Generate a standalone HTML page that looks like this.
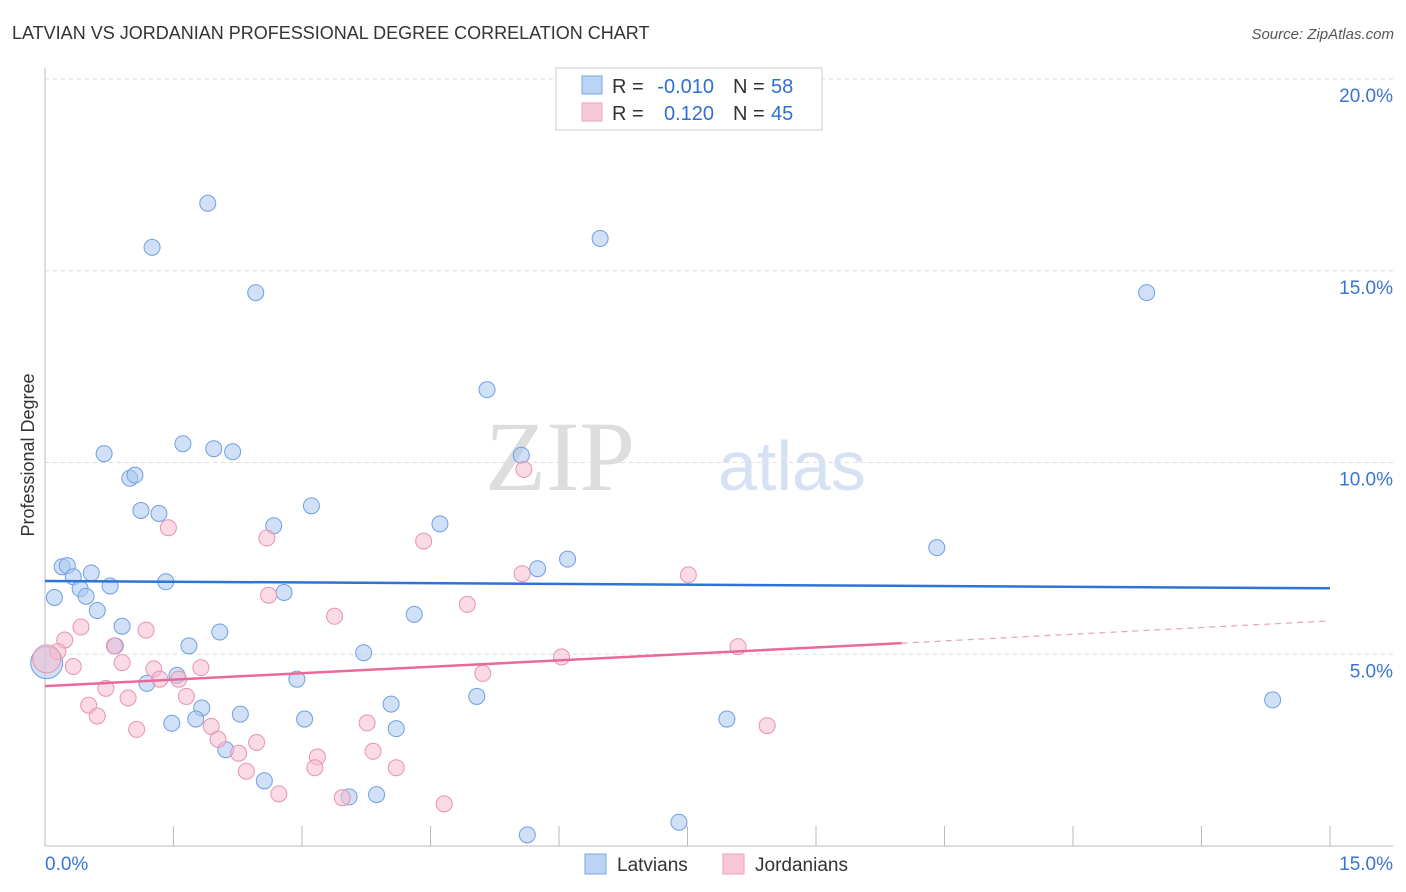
<!DOCTYPE html>
<html><head><meta charset="utf-8"><style>
body{margin:0;background:#fff;font-family:"Liberation Sans",sans-serif}
svg{display:block}
</style></head><body>
<svg id="chart" width="1406" height="892" xmlns="http://www.w3.org/2000/svg">
<text x="12" y="39" font-size="18" fill="#333">LATVIAN VS JORDANIAN PROFESSIONAL DEGREE CORRELATION CHART</text>
<text x="1394" y="39" font-size="15" fill="#555" font-style="italic" text-anchor="end">Source: ZipAtlas.com</text>
<text x="635" y="490" font-size="100" fill="#ddd" font-family="Liberation Serif,serif" text-anchor="end">ZIP</text>
<text x="718" y="490" font-size="70" fill="#d6e2f4">atlas</text>
<text transform="translate(34,455) rotate(-90)" font-size="18" fill="#333" text-anchor="middle">Professional Degree</text>
<g id="grid"></g><g id="pts"></g><g id="lines"></g>
<g>
<rect x="556" y="68" width="266" height="62" fill="#fff" stroke="#ccc"/>
<rect x="582" y="76" width="20" height="18" fill="#bcd4f4" stroke="#7aa6e4"/>
<rect x="582" y="103" width="20" height="18" fill="#f9c8d8" stroke="#eba0bc"/>
<text x="612" y="93" font-size="20" fill="#333">R =</text>
<text x="714" y="93" font-size="20" fill="#2f6fd6" text-anchor="end">-0.010</text>
<text x="733" y="93" font-size="20" fill="#333">N =</text>
<text x="771" y="93" font-size="20" fill="#2f6fd6">58</text>
<text x="612" y="120" font-size="20" fill="#333">R =</text>
<text x="714" y="120" font-size="20" fill="#2f6fd6" text-anchor="end">0.120</text>
<text x="733" y="120" font-size="20" fill="#333">N =</text>
<text x="771" y="120" font-size="20" fill="#2f6fd6">45</text>
</g>
<g>
<rect x="585" y="854" width="21" height="20" fill="#bcd4f4" stroke="#7aa6e4"/>
<text x="617" y="871" font-size="19" fill="#333">Latvians</text>
<rect x="723" y="854" width="21" height="20" fill="#f9c8d8" stroke="#eba0bc"/>
<text x="755" y="871" font-size="19" fill="#333">Jordanians</text>
</g>
</svg>
<script>
const yTicks=[5,10,15,20];
const yTickLabels=["5.0%","10.0%","15.0%","20.0%"];
const xTicks=[0,1.5,3,4.5,6,7.5,9,10.5,12,13.5,15];
const latX=[1.9,1.25,2.46,6.48,12.86,5.16,0.69,1.61,1.97,2.19,5.56,0.99,1.05,1.12,1.33,3.11,2.67,4.61,10.41,6.1,5.75,0.2,0.26,0.33,0.54,0.41,0.76,1.41,0.11,0.48,2.79,0.61,4.31,0.9,0.82,1.68,2.04,3.72,1.19,1.54,2.94,1.83,5.04,4.04,2.28,1.48,1.76,3.03,4.1,7.96,14.33,2.11,2.56,3.87,3.55,5.63,7.4,0.02];
const latY=[16.76,15.61,14.43,15.84,14.43,11.9,10.23,10.49,10.36,10.28,10.19,9.59,9.67,8.75,8.67,8.87,8.35,8.4,7.78,7.48,7.23,7.28,7.31,7.02,7.12,6.71,6.78,6.89,6.48,6.51,6.61,6.14,6.04,5.73,5.22,5.22,5.58,5.04,4.24,4.45,4.35,3.6,3.9,3.7,3.44,3.2,3.31,3.31,3.06,3.31,3.81,2.51,1.7,1.34,1.28,0.29,0.62,4.78];
const jorX=[5.59,1.44,2.59,4.42,5.57,7.51,2.61,3.38,4.93,0.42,1.18,0.23,0.81,8.09,6.03,0.15,0.33,0.90,1.27,1.34,1.82,5.11,1.56,0.71,1.65,0.97,0.51,0.61,1.94,3.76,1.07,2.02,2.47,2.26,3.18,3.83,8.43,3.15,4.1,2.35,2.73,3.47,4.66,0.02];
const jorY=[9.82,8.3,8.03,7.95,7.1,7.07,6.54,5.99,6.3,5.71,5.63,5.37,5.22,5.2,4.93,5.07,4.68,4.78,4.62,4.35,4.65,4.5,4.35,4.11,3.9,3.86,3.67,3.39,3.12,3.21,3.04,2.78,2.7,2.42,2.32,2.47,3.14,2.04,2.04,1.95,1.36,1.26,1.1,4.88];
const latLine=[6.91,6.72];
const jorLine=[4.17,5.29,5.87];
const X0=45,X1=1330,Y0=846,PY=38.35;
const sx=v=>X0+v*(X1-X0)/15, sy=v=>Y0-v*PY;
const NS="http://www.w3.org/2000/svg";
function mk(p,t,a){const e=document.createElementNS(NS,t);for(const k in a)e.setAttribute(k,a[k]);document.getElementById(p).appendChild(e);return e;}
yTicks.forEach((t,i)=>{
 const l=mk('grid','line',{x1:45,x2:1393,y1:sy(t),y2:sy(t),stroke:'#ddd','stroke-dasharray':'4,4'});
 
 
 const tx=mk('grid','text',{x:1393,y:sy(t)+23,'font-size':19,fill:'#3a74d6','text-anchor':'end'});
 tx.textContent=yTickLabels[i];
 
 
});
const axL=mk('grid','line',{x1:45,x2:45,y1:68,y2:846,stroke:'#bbb'});


const axB=mk('grid','line',{x1:45,x2:1393,y1:846,y2:846,stroke:'#bbb'});


xTicks.forEach(t=>{const l=mk('grid','line',{x1:sx(t),x2:sx(t),y1:826,y2:846,stroke:'#bbb'});
 
 });
[[0,"0.0%",'start',45],[15,"15.0%",'end',1393]].forEach(d=>{const t=mk('grid','text',{x:d[3],y:870,'font-size':19,fill:'#3a74d6','text-anchor':d[2]});t.textContent=d[1];
 
 });
latX.forEach((x,i)=>{const c=mk('pts','circle',{cx:sx(x),cy:sy(latY[i]),r:i==latX.length-1?16:8,fill:'#a9c8f0','fill-opacity':0.55,stroke:'#6f9fe0','stroke-width':1});
 
 });
jorX.forEach((x,i)=>{const c=mk('pts','circle',{cx:sx(x),cy:sy(jorY[i]),r:i==jorX.length-1?14:8,fill:'#f6bcd0','fill-opacity':0.55,stroke:'#e893b3','stroke-width':1});
 
 });
const bl=mk('lines','line',{x1:sx(0),y1:sy(latLine[0]),x2:sx(15),y2:sy(latLine[1]),stroke:'#2f72d8','stroke-width':2.5});


const pl=mk('lines','line',{x1:sx(0),y1:sy(jorLine[0]),x2:sx(10),y2:sy(jorLine[1]),stroke:'#e8699a','stroke-width':2.5});


const pd=mk('lines','line',{x1:sx(10),y1:sy(jorLine[1]),x2:sx(15),y2:sy(jorLine[2]),stroke:'#e8a0bc','stroke-width':1.2,'stroke-dasharray':'6,5'});


</script>
</body></html>
